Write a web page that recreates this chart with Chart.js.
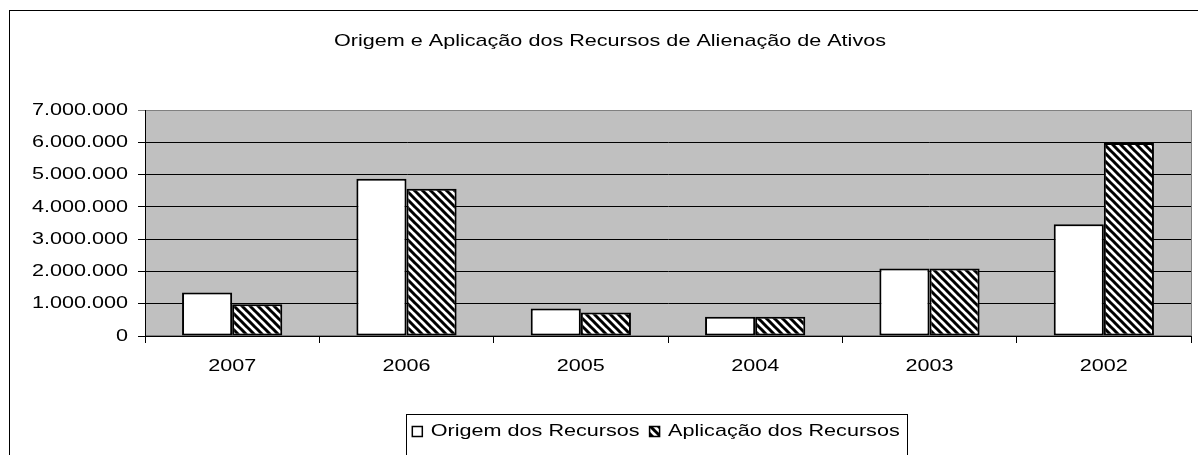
<!DOCTYPE html>
<html><head><meta charset="utf-8">
<script src="https://cdn.jsdelivr.net/npm/chart.js@4/dist/chart.umd.min.js"></script>
<style>html,body{margin:0;padding:0;background:#fff;overflow:hidden}</style>
</head><body>
<canvas id="c" width="1198" height="455" style="display:block;width:1198px;height:455px"></canvas>
<script>
const categories = ['2007', '2006', '2005', '2004', '2003', '2002'];
const origemValues = [1350000, 4870000, 850000, 600000, 2090000, 3460000];
const aplicacaoValues = [980000, 4560000, 730000, 600000, 2090000, 5980000];
const seriesNames = ['Origem dos Recursos', 'Aplicação dos Recursos'];
const titleText = 'Origem e Aplicação dos Recursos de Alienação de Ativos';
const yMin = 0, yMax = 7000000, yStep = 1000000;

const FONT = '"Liberation Sans", Arial, sans-serif';
const FS = 17;
const SX = 1.27; // the reference text is horizontally widened

const canvas = document.getElementById('c');
const ctx0 = canvas.getContext('2d');
const origFill = ctx0.fillText.bind(ctx0);
const origMeasure = ctx0.measureText.bind(ctx0);
ctx0.fillText = function (t, x, y, maxW) {
  this.save();
  this.translate(x, y);
  this.scale(SX, 1);
  if (maxW !== undefined && maxW !== null) origFill(t, 0, 0, maxW / SX); else origFill(t, 0, 0);
  this.restore();
};
ctx0.measureText = function (t) {
  const m = origMeasure(t);
  return {
    width: m.width * SX,
    actualBoundingBoxAscent: m.actualBoundingBoxAscent,
    actualBoundingBoxDescent: m.actualBoundingBoxDescent,
    actualBoundingBoxLeft: m.actualBoundingBoxLeft * SX,
    actualBoundingBoxRight: m.actualBoundingBoxRight * SX,
    fontBoundingBoxAscent: m.fontBoundingBoxAscent,
    fontBoundingBoxDescent: m.fontBoundingBoxDescent
  };
};

function makeHatch() {
  const s = 8;
  const c = document.createElement('canvas');
  c.width = s; c.height = s;
  const g = c.getContext('2d');
  g.fillStyle = '#fff';
  g.fillRect(0, 0, s, s);
  g.strokeStyle = '#000';
  g.lineWidth = 3;
  g.beginPath();
  for (let k = -1; k <= 1; k++) {
    g.moveTo(k * s - 1, -1);
    g.lineTo(k * s + s + 1, s + 1);
  }
  g.stroke();
  return g.createPattern(c, 'repeat');
}
const hatch = makeHatch();

function fmt(v) {
  return String(Math.round(v)).replace(/\B(?=(\d{3})+(?!\d))/g, '.');
}

const decor = {
  id: 'decor',
  afterLayout(chart) {
    if (chart.titleBlock) { chart.titleBlock.left = 0; chart.titleBlock.right = 1220; }
    const lg = chart.legend;
    if (lg) { lg.left -= 12; lg.right -= 12; }
  },
  beforeDraw(chart) {
    const ctx = chart.ctx;
    const a = chart.chartArea;
    ctx.save();
    ctx.fillStyle = '#fff';
    ctx.fillRect(0, 0, chart.width, chart.height);
    ctx.strokeStyle = '#000';
    ctx.lineWidth = 1;
    ctx.strokeRect(9.5, 10.5, 1300, 600);
    ctx.fillStyle = '#c0c0c0';
    ctx.fillRect(a.left, a.top, a.right - a.left, a.bottom - a.top);
    ctx.strokeStyle = '#808080';
    ctx.strokeRect(a.left + 0.5, a.top + 0.5, a.right - a.left, a.bottom - a.top - 1);
    ctx.restore();
  },
  afterDraw(chart) {
    const lg = chart.legend;
    if (!lg || !lg.legendHitBoxes || !lg.legendHitBoxes.length) return;
    const hb = lg.legendHitBoxes;
    let minX = Infinity, maxX = -Infinity, minY = Infinity;
    hb.forEach(h => { minX = Math.min(minX, h.left); maxX = Math.max(maxX, h.left + h.width); minY = Math.min(minY, h.top); });
    const ctx = chart.ctx;
    ctx.save();
    ctx.strokeStyle = '#000';
    ctx.lineWidth = 1;
    ctx.strokeRect(Math.round(minX - 6) + 0.5, Math.round(minY - 9) + 0.5, Math.round(maxX - minX + 14), 200);
    ctx.restore();
  }
};

new Chart(canvas, {
  type: 'bar',
  data: {
    labels: categories,
    datasets: [
      { label: seriesNames[0], data: origemValues, backgroundColor: '#ffffff', borderColor: '#000', borderWidth: 2 },
      { label: seriesNames[1], data: aplicacaoValues, backgroundColor: hatch, borderColor: '#000', borderWidth: 2 }
    ]
  },
  plugins: [decor],
  options: {
    responsive: false,
    animation: false,
    devicePixelRatio: 1,
    layout: { padding: { left: 0, right: 7, top: 0, bottom: 5 } },
    datasets: { bar: { categoryPercentage: 0.575, barPercentage: 1.0, borderSkipped: false } },
    plugins: {
      title: {
        display: true, text: titleText, color: '#000',
        font: { family: FONT, size: FS, weight: 'normal' },
        padding: { top: 31, bottom: 58.6 }
      },
      legend: {
        display: true, position: 'bottom', fullSize: false,
        labels: {
          color: '#000', font: { family: FONT, size: FS },
          boxWidth: 10, boxHeight: 10, padding: 10,
          generateLabels(chart) {
            return chart.data.datasets.map((d, i) => ({
              text: d.label, fillStyle: d.backgroundColor, strokeStyle: '#000', lineWidth: 1.5,
              datasetIndex: i, hidden: false
            }));
          }
        }
      },
      tooltip: { enabled: false }
    },
    scales: {
      x: {
        grid: { display: true, drawOnChartArea: false, drawTicks: true, tickLength: 7, color: '#000', offset: true },
        border: { display: true, color: '#000', width: 1 },
        ticks: { color: '#000', font: { family: FONT, size: FS }, padding: 13, maxRotation: 0 },
        afterFit(s) { s.height = 77; }
      },
      y: {
        min: yMin, max: yMax,
        grid: { color: c => (c.tick && c.tick.value === yMax ? '#808080' : '#000'), tickLength: 7, drawTicks: true },
        border: { display: true, color: '#000', width: 1 },
        ticks: { stepSize: yStep, color: '#000', font: { family: FONT, size: FS }, padding: 10, callback: v => fmt(v) },
        afterFit(s) { s.width = 145; }
      }
    }
  }
});
</script>
</body></html>
